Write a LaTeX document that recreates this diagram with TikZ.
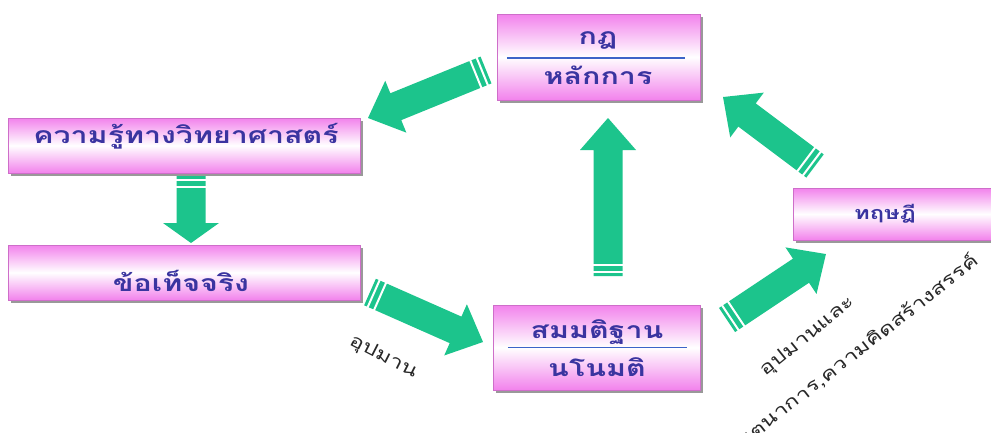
\documentclass[tikz,border=0pt]{standalone}
\usepackage{fontspec}
\newfontfamily\thaib[Script=Thai,FakeStretch=1.32]{Loma}
\newfontfamily\thai[Script=Thai,FakeStretch=1.3]{Loma}
\usetikzlibrary{shadows,calc}
\definecolor{arrgreen}{RGB}{28,196,140}
\definecolor{boxpink}{RGB}{242,130,236}
\definecolor{txtblue}{RGB}{58,52,160}
\definecolor{sepblue}{RGB}{60,100,200}
\definecolor{labgray}{RGB}{40,40,40}
\tikzset{
 box/.style={draw=boxpink!85!black, line width=0.4pt, top color=boxpink, bottom color=boxpink, middle color=white, drop shadow={shadow xshift=3pt, shadow yshift=-3pt, fill=gray!80, opacity=1}, inner sep=0pt},
 boxtext/.style={font=\thaib\bfseries\fontsize{23}{25}\selectfont, text=txtblue, anchor=base, inner sep=0pt},
 sepline/.style={draw=sepblue, line width=1.6pt},
 lab/.style={font=\thai\fontsize{18}{20}\selectfont, text=labgray, inner sep=0pt},
 pics/fat/.style 2 args={code={
   \fill[arrgreen] (0,-14.5) -- ({#1-#2},-14.5) -- ({#1-#2},-28) -- (#1,0) -- ({#1-#2},28) -- ({#1-#2},14.5) -- (0,14.5) -- cycle;
   \draw[white, line width=2pt] (4,-15.5) -- (4,15.5) (11,-15.5) -- (11,15.5);
 }}
}
\newcommand\fatconn[3]{\path let \p1=(#1), \p2=(#2), \n1={atan2(\y2-\y1,\x2-\x1)}, \n2={veclen(\x2-\x1,\y2-\y1)} in (\p1) pic[rotate=\n1]{fat={\n2}{#3}};}
\begin{document}
\begin{tikzpicture}[x=1pt,y=-1pt]
\useasboundingbox (0,0) rectangle (991,432);
\fill[white] (0,0) rectangle (991,432);
% boxes
\node[box, minimum width=203pt, minimum height=86pt] (b1) at (598.5,57) {};
\node[box, minimum width=352pt, minimum height=55pt] (b2) at (184,145.5) {};
\node[box, minimum width=352pt, minimum height=55pt] (b3) at (184,272.5) {};
\node[box, minimum width=207pt, minimum height=85pt] (b4) at (596.5,347.5) {};
\node[box, minimum width=217pt, minimum height=52pt] (b5) at (901.5,214) {};
% texts
\node[boxtext] (t1a) at (598,44) {กฎ};
\node[boxtext] (t1b) at (598,84) {หลักการ};
\draw[sepline] ($(b1.west)+(10,1)$) -- ($(b1.east)+(-15,1)$);
\node[boxtext] (t2) at (186,143) {ความรู้ทางวิทยาศาสตร์};
\node[boxtext] (t3) at (181,291) {ข้อเท็จจริง};
\node[boxtext] (t4a) at (597,338) {สมมติฐาน};
\node[boxtext] (t4b) at (597,376) {นโนมติ};
\draw[sepline] ($(b4.west)+(15,0)$) -- ($(b4.east)+(-13,0)$);
\node[boxtext, font=\thaib\bfseries\fontsize{18}{20}\selectfont] (t5) at (885,219) {ทฤษฎี};
% arrows
\coordinate (a1t) at (486,70);  \coordinate (a1h) at (368,118);
\coordinate (a2t) at (191,176); \coordinate (a2h) at (191,243);
\coordinate (a3t) at (370,292); \coordinate (a3h) at (483,342);
\coordinate (a4t) at (608,276); \coordinate (a4h) at (608,118);
\coordinate (a5t) at (727,320); \coordinate (a5h) at (826,254);
\coordinate (a6t) at (815,166); \coordinate (a6h) at (723,97);
\fatconn{a1t}{a1h}{30}
\fatconn{a2t}{a2h}{20}
\fatconn{a3t}{a3h}{30}
\fatconn{a4t}{a4h}{32}
\fatconn{a5t}{a5h}{30}
\fatconn{a6t}{a6h}{30}
% labels
\node[lab, rotate=-27] (l1) at (383,357) {อุปมาน};
\node[lab, rotate=39] (l2) at (808,337) {อุปมานและ};
\node[lab, rotate=38, anchor=east] (l3) at (976,258) {จินตนาการ,ความคิดสร้างสรรค์};
\end{tikzpicture}
\end{document}
